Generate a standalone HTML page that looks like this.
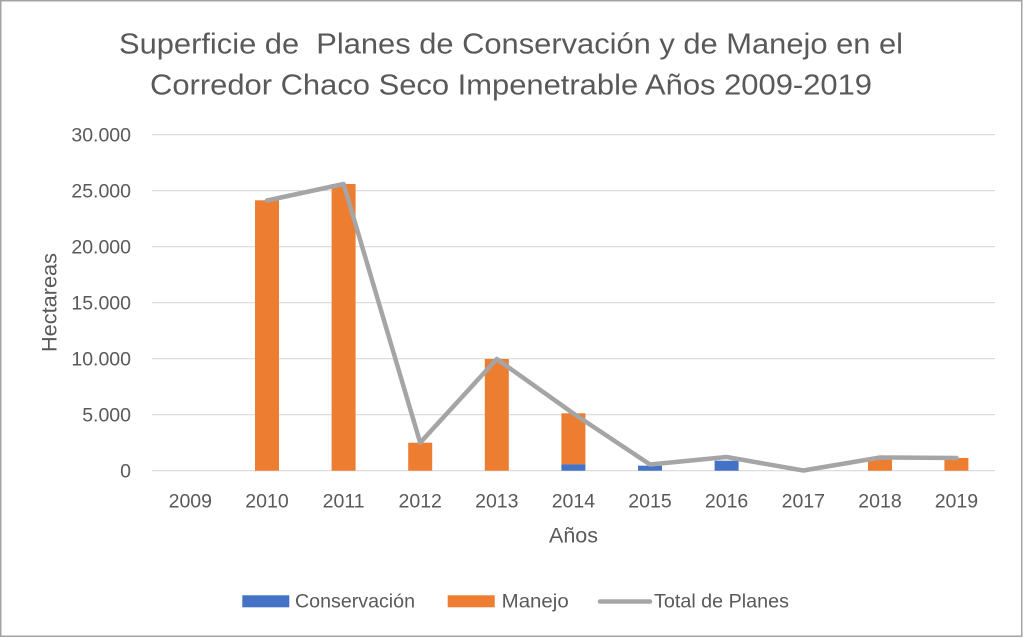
<!DOCTYPE html>
<html>
<head>
<meta charset="utf-8">
<style>
html,body{margin:0;padding:0;background:#fff;}
svg{display:block;}
text{font-family:"Liberation Sans",sans-serif;fill:#595959;}
</style>
</head>
<body>
<svg width="1024" height="638" viewBox="0 0 1024 638" xmlns="http://www.w3.org/2000/svg">
<rect x="0" y="0" width="1024" height="638" fill="#fff"/>
<rect x="0.75" y="0.75" width="1021" height="635.5" fill="#fff" stroke="#a3a3a3" stroke-width="1.5"/>

<!-- Title -->
<text x="119" y="53.3" font-size="29" textLength="784" lengthAdjust="spacingAndGlyphs" style="white-space:pre">Superficie de  Planes de Conservación y de Manejo en el</text>
<text x="150" y="94.3" font-size="29" textLength="722" lengthAdjust="spacingAndGlyphs">Corredor Chaco Seco Impenetrable Años 2009-2019</text>

<!-- Gridlines -->
<g stroke="#d9d9d9" stroke-width="1.2">
<line x1="152" y1="134.7" x2="995" y2="134.7"/>
<line x1="152" y1="190.7" x2="995" y2="190.7"/>
<line x1="152" y1="246.7" x2="995" y2="246.7"/>
<line x1="152" y1="302.7" x2="995" y2="302.7"/>
<line x1="152" y1="358.7" x2="995" y2="358.7"/>
<line x1="152" y1="414.7" x2="995" y2="414.7"/>
<line x1="152" y1="470.7" x2="995" y2="470.7"/>
</g>

<!-- Y tick labels -->
<g font-size="19.5" text-anchor="end">
<text x="131" y="141.7">30.000</text>
<text x="131" y="197.7">25.000</text>
<text x="131" y="253.7">20.000</text>
<text x="131" y="309.7">15.000</text>
<text x="131" y="365.7">10.000</text>
<text x="131" y="421.7">5.000</text>
<text x="131" y="477.7">0</text>
</g>

<!-- X tick labels -->
<g font-size="19.5" text-anchor="middle">
<text x="190.3" y="507.3">2009</text>
<text x="267" y="507.3">2010</text>
<text x="343.6" y="507.3">2011</text>
<text x="420.2" y="507.3">2012</text>
<text x="496.8" y="507.3">2013</text>
<text x="573.4" y="507.3">2014</text>
<text x="650" y="507.3">2015</text>
<text x="726.6" y="507.3">2016</text>
<text x="803.3" y="507.3">2017</text>
<text x="880" y="507.3">2018</text>
<text x="956.4" y="507.3">2019</text>
</g>

<!-- Axis titles -->
<text x="573.5" y="542.7" font-size="21.5" text-anchor="middle">Años</text>
<text transform="translate(56.5,302.5) rotate(-90)" x="0" y="0" font-size="21.5" text-anchor="middle" textLength="99" lengthAdjust="spacingAndGlyphs">Hectareas</text>

<!-- Bars -->
<g fill="#ED7D31">
<rect x="255" y="200.3" width="24" height="270.4"/>
<rect x="331.6" y="184" width="24" height="286.7"/>
<rect x="408.2" y="442.7" width="24" height="28"/>
<rect x="484.8" y="359" width="24" height="111.7"/>
<rect x="561.4" y="413.3" width="24" height="51"/>
<rect x="868" y="458" width="24" height="12.7"/>
<rect x="944.4" y="458" width="24" height="12.7"/>
</g>
<g fill="#4472C4">
<rect x="561.4" y="464.3" width="24" height="6.4"/>
<rect x="638" y="465.7" width="24" height="5"/>
<rect x="714.6" y="460.7" width="24" height="10"/>
</g>

<!-- Total line -->
<polyline fill="none" stroke="#A5A5A5" stroke-width="4.5" stroke-linejoin="round" stroke-linecap="round"
points="267,200.5 343.6,184 420.2,442.7 496.8,359 573.4,413.5 650,464.5 726.6,457 803.3,470.5 880,457.5 956.4,458"/>

<!-- Legend -->
<rect x="242.3" y="595.3" width="47" height="12" fill="#4472C4"/>
<text x="295" y="607.7" font-size="19.5" textLength="120" lengthAdjust="spacingAndGlyphs">Conservación</text>
<rect x="447.7" y="595.3" width="47" height="12" fill="#ED7D31"/>
<text x="501.7" y="607.7" font-size="19.5" textLength="67" lengthAdjust="spacingAndGlyphs">Manejo</text>
<line x1="600" y1="601.5" x2="650" y2="601.5" stroke="#A5A5A5" stroke-width="4.5" stroke-linecap="round"/>
<text x="654" y="607.7" font-size="19.5" textLength="135" lengthAdjust="spacingAndGlyphs">Total de Planes</text>
</svg>
</body>
</html>
